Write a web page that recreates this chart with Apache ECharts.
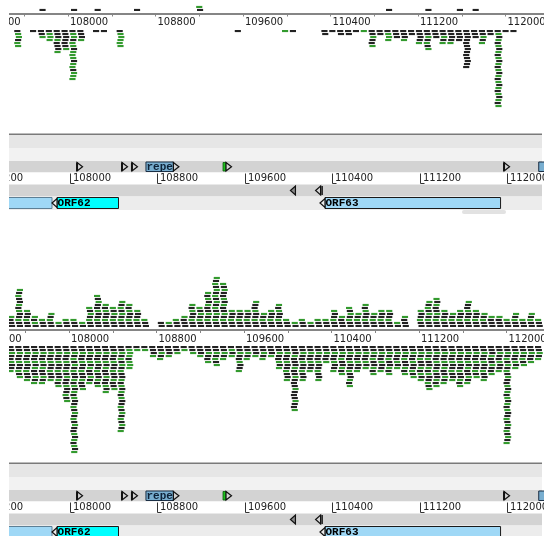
<!DOCTYPE html>
<html>
<head>
<meta charset="utf-8">
<script src="https://cdn.jsdelivr.net/npm/echarts@6/dist/echarts.min.js"></script>
<style>
  html, body { margin: 0; padding: 0; background: #fff; }
  #chart { width: 544px; height: 536px; }
</style>
</head>
<body>
<div id="chart"></div>
<script>
// Read stacks are binned along the genome: bin i is centred on binStart + i * binStep.
const binStart = 107400;
const binStep = 72;

// Upper view (forward reads above the ruler, reverse reads below)
const topAbove = [0,0,0,0,0,1,0,0,0,1, 0,0,1,0,0,0,0,1,0,0, 0,0,0,0,0,2,0,0,0,0,
                  0,0,0,0,0,0,0,0,0,0, 0,0,0,0,0,0,0,0,0,1, 0,0,0,0,1,0,0,0,1,0,
                  1,0,0,0,0,0,0,0,0];
const topAboveGreen = [0,0,0,0,0,0,0,0,0,0, 0,0,0,0,0,0,0,0,0,0, 0,0,0,0,0,1,0,0,0,0,
                       0,0,0,0,0,0,0,0,0,0, 0,0,0,0,0,0,0,0,0,0, 0,0,0,0,0,0,0,0,0,0,
                       0,0,0,0,0,0,0,0,0];
const topBelow = [0,0,6,0,1,3,4,8,7,17, 4,0,1,1,0,6,0,0,0,0, 0,0,0,0,0,0,0,0,0,0,
                  1,0,0,0,0,0,1,1,0,0, 0,2,1,2,2,1,1,6,2,4, 3,4,2,5,7,3,5,5,4,13,
                  3,5,2,26,1,1,0,0,0];
const topBelowGreen = [0,0,4,0,0,1,3,2,1,12, 1,0,0,0,0,5,0,0,0,0, 0,0,0,0,0,0,0,0,0,0,
                       0,0,0,0,0,0,1,0,0,0, 0,0,0,0,0,0,1,2,0,3, 0,1,0,1,3,0,2,1,0,0,
                       0,2,0,13,0,0,0,0,0];

// Lower view
const botAbove = [3,4,13,6,4,3,5,2,3,3, 2,7,11,8,7,9,8,6,3,0, 2,2,3,4,8,7,12,17,15,6,
                  6,6,9,5,6,8,3,2,3,2, 3,3,6,4,7,5,8,5,6,6, 2,4,0,6,9,10,6,5,6,9,
                  6,5,4,4,3,5,3,5,3];
const botAboveGreen = [1,1,5,2,2,1,2,1,1,1, 1,3,4,3,3,4,3,2,1,0, 0,1,1,1,3,3,5,8,6,2,
                       2,2,3,2,2,3,1,1,1,1, 1,1,2,1,3,2,3,2,2,2, 1,1,0,2,4,4,2,2,2,3,
                       2,2,1,1,1,2,1,2,1];
const botBelow = [7,9,11,12,13,13,12,14,19,36, 15,13,14,16,15,29,8,2,2,4, 5,4,3,2,3,4,6,7,5,4,
                  9,5,4,5,4,8,12,22,12,9, 12,6,9,10,14,9,8,10,9,10, 8,10,11,12,15,14,13,12,14,13,
                  11,12,10,9,33,8,7,6,5];
const botBelowGreen = [2,3,4,4,5,5,4,5,7,16, 5,5,5,6,5,13,6,1,1,1, 2,1,1,1,1,1,2,3,2,2,
                       3,2,1,2,1,3,4,6,4,3, 4,2,3,4,5,3,3,4,3,4, 3,4,4,5,6,5,5,4,5,5,
                       4,4,3,3,15,3,3,2,2];

// Ruler labels
const rulerTicks = [107200, 108000, 108800, 109600, 110400, 111200, 112000];

// Feature track contents
const fwdMarks = [108069, 108480, 108571, 111973];
const fwdGreenMarks = [109431];
const fwdBoxes = [[108699, 108950, 'repe'], [112290, 112700, '']];
const revMarks = [110020];
const revBarMarks = [110250];
const geneBoxes = [[106900, 107840, ''], [107886, 108448, 'ORF62'], [110336, 111941, 'ORF63']];
const geneFills = ['#9fd8f6', '#00ffff', '#9fd8f6'];

// ---- layout & style ----
const PX_PER_BP = 0.109375;
const AXIS_MIN = 106800, AXIS_MAX = 112800;
const GRID_W = (AXIS_MAX - AXIS_MIN) * PX_PER_BP;
const leftFor = x108000 => x108000 - (108000 - AXIS_MIN) * PX_PER_BP;
const ROW_PX = 3;
const GREEN = '#339a2e';
const BLACK = '#222222';
const BAND_GREY = '#d3d3d3';
const LABEL_FONT = 'DejaVu Sans';
const FEAT_FONT = 'bold 11px "Liberation Mono"';
const STAIR = [-0.8, 0, 0.8, 0];   // small per-row shift so stacked reads look staggered

const ROW = { fwd: [27, 38.5], ruler: [38.5, 50.5], rev: [50.5, 62.5], gene: [62.5, 75] };
const bands = [
  [1, 14, '#e6e6e6'], [14, 27, '#f2f2f2'], [27, 38.5, BAND_GREY],
  [38.5, 50.5, '#ffffff'], [50.5, 62.5, BAND_GREY], [62.5, 76, '#ececec']
];
const blockTops = [134, 463];
// read panels: the ruler line sits at the bottom edge of each grid
const readPanels = [{ top: 0, axisY: 13.5, x108000: 68, gapUp: 2.5, gapDown: 16.5 },
                    { top: 268, axisY: 330, x108000: 69, gapUp: 3, gapDown: 16 }];

function isGreen(r, n, g) {
  return Math.floor((r + 1) * g / n) > Math.floor(r * g / n);
}

function readStack(gapUp, gapDown) {
  return function (params, api) {
    const pos = api.value(0), up = api.value(1), dn = api.value(2);
    const gu = api.value(3), gd = api.value(4);
    const base = api.coord([pos, 0]);
    const size = api.size([binStep, 1]);
    const w = size[0] * 0.78, rowH = size[1], h = rowH * 0.7;
    const x = base[0] - w / 2;
    const kids = [];
    for (let r = 0; r < up; r++) {
      kids.push({ type: 'rect',
        shape: { x: x - STAIR[r % 4], y: base[1] - gapUp - (r + 1) * rowH + (rowH - h), width: w, height: h },
        style: { fill: isGreen(r, up, gu) ? GREEN : BLACK } });
    }
    for (let r = 0; r < dn; r++) {
      kids.push({ type: 'rect',
        shape: { x: x + STAIR[r % 4], y: base[1] + gapDown + r * rowH, width: w, height: h },
        style: { fill: isGreen(r, dn, gd) ? GREEN : BLACK } });
    }
    return { type: 'group', children: kids };
  };
}

function stackData(a, b, ga, gb) {
  return a.map((v, i) => [binStart + i * binStep, v, b[i], ga[i], gb[i]]);
}

function readAxis(gridIndex) {
  return {
    type: 'value', gridIndex: gridIndex, min: AXIS_MIN, max: AXIS_MAX, interval: 400,
    position: 'bottom',
    axisLine: { onZero: false, lineStyle: { color: '#858585', width: 2 } },
    axisTick: { show: true, length: 3, lineStyle: { color: '#858585', width: 1 } },
    splitLine: { show: false },
    axisLabel: {
      margin: 4, align: 'left', padding: [0, 0, 0, 2],
      fontFamily: LABEL_FONT, fontSize: 10, color: '#222',
      formatter: v => (rulerTicks.indexOf(v) >= 0 ? String(v) : '')
    }
  };
}
function hiddenX(gridIndex) {
  return { type: 'value', gridIndex: gridIndex, min: AXIS_MIN, max: AXIS_MAX, show: false };
}

// triangle helpers for the feature rows
function rightTri(x, y0, y1) {
  return { type: 'polygon', shape: { points: [[x, y0 + 1.5], [x + 5.5, (y0 + y1) / 2], [x, y1 - 1.5]] },
    style: { fill: BAND_GREY, stroke: '#111', lineWidth: 1.2 } };
}
function leftTri(x, y0, y1, fill) {
  return { type: 'polygon', shape: { points: [[x, (y0 + y1) / 2], [x + 5, y0 + 1.5], [x + 5, y1 - 1.5]] },
    style: { fill: fill, stroke: '#111', lineWidth: 1.2 } };
}

function featureSeries(gi) {
  const list = [];
  const top = blockTops[gi - 2];
  // ruler
  list.push({
    type: 'custom', xAxisIndex: gi, yAxisIndex: gi, z: 5,
    data: rulerTicks.map(v => [v, 0]),
    renderItem: (params, api) => {
      const x = Math.round(api.coord([api.value(0), 0])[0]) + 0.5;
      const y0 = top + ROW.ruler[0], y1 = top + ROW.ruler[1];
      return { type: 'group', children: [
        { type: 'polyline', shape: { points: [[x, y0 + 1], [x, y1 - 1], [x + 4, y1 - 1]] },
          style: { stroke: '#333', lineWidth: 1, fill: null } },
        { type: 'text', style: { x: x + 2.5, y: (y0 + y1) / 2, text: String(api.value(0)),
          font: '10px "' + LABEL_FONT + '"', fill: '#222', align: 'left', verticalAlign: 'middle' } }
      ] };
    }
  });
  // forward small features
  list.push({
    type: 'custom', xAxisIndex: gi, yAxisIndex: gi, z: 5,
    data: fwdMarks.map(v => [v, 0]),
    renderItem: (params, api) => {
      const x = api.coord([api.value(0), 0])[0];
      const y0 = top + ROW.fwd[0], y1 = top + ROW.fwd[1];
      return { type: 'group', children: [
        rightTri(x, y0, y1),
        { type: 'line', shape: { x1: x, y1: y0 + 1.5, x2: x, y2: y1 - 1.5 }, style: { stroke: '#111', lineWidth: 2 } }
      ] };
    }
  });
  list.push({
    type: 'custom', xAxisIndex: gi, yAxisIndex: gi, z: 5,
    data: fwdGreenMarks.map(v => [v, 0]),
    renderItem: (params, api) => {
      const x = api.coord([api.value(0), 0])[0];
      const y0 = top + ROW.fwd[0], y1 = top + ROW.fwd[1];
      return { type: 'group', children: [
        { type: 'rect', shape: { x: x - 3, y: y0 + 1.5, width: 3, height: y1 - y0 - 3 },
          style: { fill: '#1fc21f', stroke: '#0a5a0a', lineWidth: 0.8 } },
        rightTri(x, y0, y1)
      ] };
    }
  });
  list.push({
    type: 'custom', xAxisIndex: gi, yAxisIndex: gi, z: 5,
    data: fwdBoxes.map(b => [b[0], b[1]]),
    renderItem: (params, api) => {
      const x1 = api.coord([api.value(0), 0])[0], x2 = api.coord([api.value(1), 0])[0];
      const y0 = top + ROW.fwd[0], y1 = top + ROW.fwd[1];
      const label = fwdBoxes[params.dataIndex][2];
      const kids = [
        { type: 'rect', shape: { x: x1, y: y0 + 1, width: x2 - x1, height: y1 - y0 - 2 },
          style: { fill: '#78aed0', stroke: '#1b2f45', lineWidth: 1 } }
      ];
      if (label) {
        kids.push({ type: 'text', style: { x: (x1 + x2) / 2, y: (y0 + y1) / 2 + 0.5, text: label,
          font: FEAT_FONT, fill: '#0d2238', align: 'center', verticalAlign: 'middle' } });
        kids.push(rightTri(x2, y0, y1));
      }
      return { type: 'group', children: kids };
    }
  });
  // reverse small features
  list.push({
    type: 'custom', xAxisIndex: gi, yAxisIndex: gi, z: 5,
    data: revMarks.map(v => [v, 0]),
    renderItem: (params, api) => {
      const x = api.coord([api.value(0), 0])[0];
      const y0 = top + ROW.rev[0], y1 = top + ROW.rev[1];
      return leftTri(x, y0, y1, '#8a8a8a');
    }
  });
  list.push({
    type: 'custom', xAxisIndex: gi, yAxisIndex: gi, z: 5,
    data: revBarMarks.map(v => [v, 0]),
    renderItem: (params, api) => {
      const x = api.coord([api.value(0), 0])[0];
      const y0 = top + ROW.rev[0], y1 = top + ROW.rev[1];
      return { type: 'group', children: [
        leftTri(x, y0, y1, BAND_GREY),
        { type: 'line', shape: { x1: x + 6.5, y1: y0 + 1.5, x2: x + 6.5, y2: y1 - 1.5 }, style: { stroke: '#111', lineWidth: 1.5 } }
      ] };
    }
  });
  // genes
  list.push({
    type: 'custom', xAxisIndex: gi, yAxisIndex: gi, z: 5,
    data: geneBoxes.map(b => [b[0], b[1]]),
    renderItem: (params, api) => {
      const x1 = api.coord([api.value(0), 0])[0], x2 = api.coord([api.value(1), 0])[0];
      const y0 = top + ROW.gene[0] + 1, y1 = top + ROW.gene[0] + 12;
      const label = geneBoxes[params.dataIndex][2];
      const kids = [
        { type: 'rect', shape: { x: x1, y: y0, width: x2 - x1, height: y1 - y0 },
          style: { fill: geneFills[params.dataIndex], stroke: label ? '#1a1a1a' : '#5d7f95', lineWidth: 1 } }
      ];
      if (label) {
        kids.push(leftTri(x1 - 5, y0 - 0.5, y1 + 0.5, '#e8e8e8'));
        kids.push({ type: 'text', style: { x: x1 + 0.5, y: (y0 + y1) / 2 + 0.5, text: label,
          font: FEAT_FONT, fill: '#000', align: 'left', verticalAlign: 'middle' } });
      }
      return { type: 'group', children: kids };
    }
  });
  return list;
}

// background rows of the two feature blocks
const graphics = [];
blockTops.forEach(t => {
  graphics.push({ type: 'rect', z: 0, shape: { x: 0, y: t - 0.5, width: 542, height: 1.5 }, style: { fill: '#7a7a7a' } });
  bands.forEach(b => {
    graphics.push({ type: 'rect', z: 0, shape: { x: 0, y: t + b[0], width: 542, height: b[1] - b[0] }, style: { fill: b[2] } });
  });
});
graphics.push({ type: 'rect', z: 0, shape: { x: 462, y: 210, width: 44, height: 4, r: 2 }, style: { fill: '#e2e2e2' } });
graphics.push({ type: 'rect', z: 100, shape: { x: 0, y: 0, width: 9, height: 536 }, style: { fill: '#ffffff' } });

const readGrids = readPanels.map(p => ({
  left: leftFor(p.x108000), top: p.top, width: GRID_W, height: p.axisY - p.top,
  outerBoundsMode: 'none', containLabel: false
}));
const featGrids = blockTops.map((t, i) => ({
  left: leftFor(69.5), top: t, width: GRID_W, height: i === 0 ? 76 : 73,
  outerBoundsMode: 'none', containLabel: false
}));

const chart = echarts.init(document.getElementById('chart'));
chart.setOption({
  animation: false,
  backgroundColor: '#ffffff',
  grid: readGrids.concat(featGrids),
  xAxis: [readAxis(0), readAxis(1), hiddenX(2), hiddenX(3)],
  yAxis: [
    { type: 'value', gridIndex: 0, min: 0, max: (readPanels[0].axisY - readPanels[0].top) / ROW_PX, show: false },
    { type: 'value', gridIndex: 1, min: 0, max: (readPanels[1].axisY - readPanels[1].top) / ROW_PX, show: false },
    { type: 'value', gridIndex: 2, min: 0, max: 1, show: false },
    { type: 'value', gridIndex: 3, min: 0, max: 1, show: false }
  ],
  graphic: { elements: graphics },
  series: [
    { type: 'custom', xAxisIndex: 0, yAxisIndex: 0, z: 3, clip: false,
      data: stackData(topAbove, topBelow, topAboveGreen, topBelowGreen),
      renderItem: readStack(readPanels[0].gapUp, readPanels[0].gapDown) },
    { type: 'custom', xAxisIndex: 1, yAxisIndex: 1, z: 3, clip: false,
      data: stackData(botAbove, botBelow, botAboveGreen, botBelowGreen),
      renderItem: readStack(readPanels[1].gapUp, readPanels[1].gapDown) }
  ].concat(featureSeries(2), featureSeries(3))
});
</script>
</body>
</html>
